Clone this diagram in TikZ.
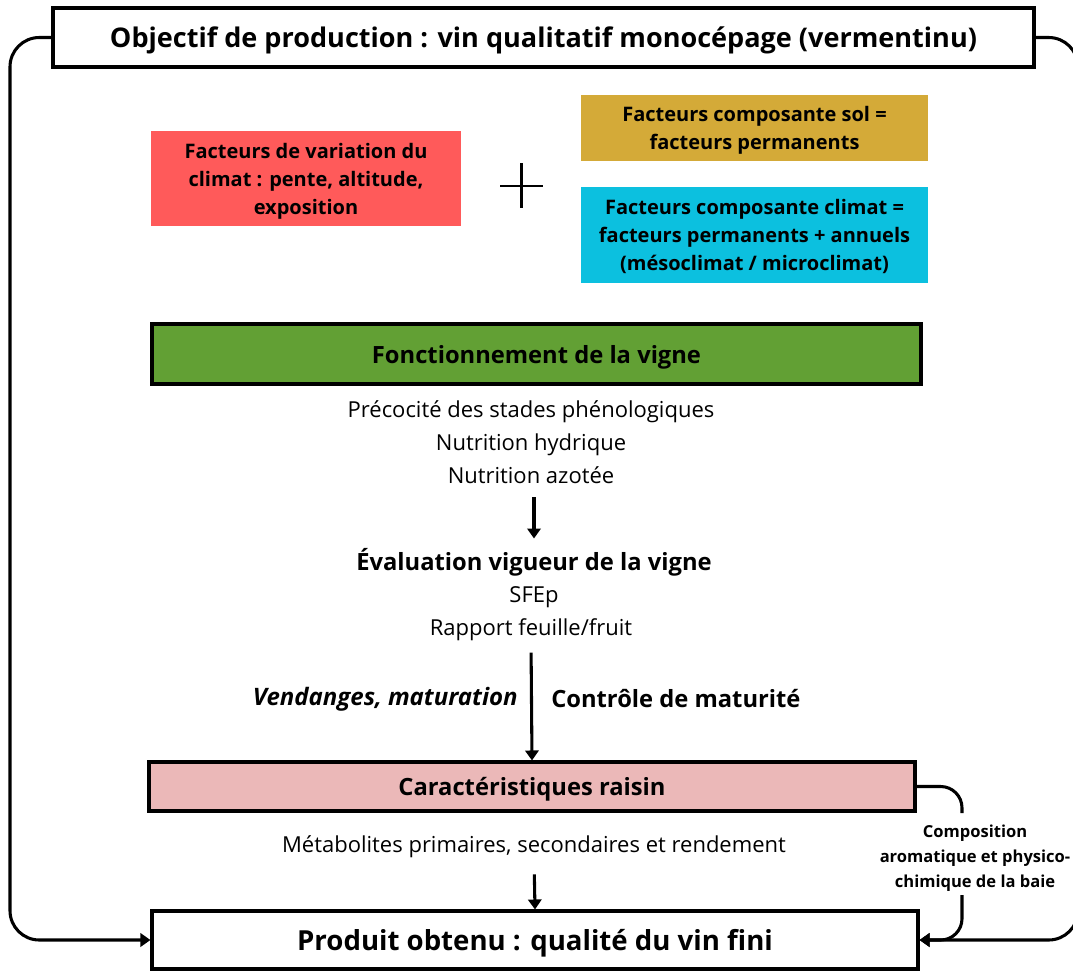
\documentclass[tikz,border=0pt]{standalone}
\usepackage{fontspec}
\setmainfont{Open Sans}
\usetikzlibrary{arrows.meta}
\definecolor{rouge}{HTML}{FF5A5A}
\definecolor{ocre}{HTML}{D4AA38}
\definecolor{cyan}{HTML}{0CC0DF}
\definecolor{vert}{HTML}{62A034}
\definecolor{rose}{HTML}{EBB8B8}

\begin{document}
\begin{tikzpicture}[%
  x=0.75pt, y=-0.75pt,
  fbox/.style={inner sep=0pt, text depth=0pt, align=center, font=\fontsize{15}{21}\selectfont\bfseries},
  hbox/.style={draw, line width=2.3pt, inner sep=0pt, text depth=0pt, font=\fontsize{17.8}{20}\selectfont\bfseries},
  txt/.style={inner sep=0pt, align=center, font=\fontsize{16.5}{24.75}\selectfont},
  conn/.style={line width=2.3pt, rounded corners=22pt},
  arr/.style={line width=2.3pt, -{Triangle[width=10pt,length=7.5pt]}}]
\useasboundingbox (0,0) rectangle (1073,971);

\node[draw, line width=3pt, minimum width=981*0.75pt, minimum height=59*0.75pt,
  inner sep=0pt, text depth=0pt, font=\fontsize{20.3}{24}\selectfont\bfseries] (obj) at (543.5,37.5)
  {Objectif de production : vin qualitatif monocépage (vermentinu)};

\node[fbox, fill=rouge, minimum width=310*0.75pt, minimum height=95*0.75pt] (var) at (306,178.5)
  {Facteurs de variation du\\climat : pente, altitude,\\exposition};
\node[fbox, fill=ocre, minimum width=347*0.75pt, minimum height=66*0.75pt] (sol) at (754.5,128)
  {Facteurs composante sol =\\facteurs permanents};
\node[fbox, fill=cyan, minimum width=347*0.75pt, minimum height=96*0.75pt] (clim) at (754.5,235)
  {Facteurs composante climat =\\facteurs permanents + annuels\\(mésoclimat / microclimat)};
\draw[line width=2.2pt] (500,186) -- (543,186) (521.5,163) -- (521.5,208);

\node[hbox, fill=vert, minimum width=769*0.75pt, minimum height=60*0.75pt] (fonc) at (536.5,354)
  {Fonctionnement de la vigne};
\node[txt] (etats) at (531,442)
  {Précocité des stades phénologiques\\Nutrition hydrique\\Nutrition azotée};

\node[txt, font=\fontsize{17.8}{20}\selectfont\bfseries] (eval) at (534,562)
  {Évaluation vigueur de la vigne};
\node[txt] (sfep) at (534,597) {SFEp};
\node[txt] (rapp) at (531,630) {Rapport feuille/fruit};

\node[txt, anchor=east, font=\fontsize{18}{20}\selectfont\bfseries\itshape] (vend) at (518,699)
  {Vendanges, maturation};
\node[txt, anchor=west, font=\fontsize{17.8}{20}\selectfont\bfseries] (ctrl) at (551,699)
  {Contrôle de maturité};

\node[hbox, fill=rose, minimum width=766*0.75pt, minimum height=49*0.75pt] (rais) at (532,786.5)
  {Caractéristiques raisin};
\node[txt] (meta) at (534,847) {Métabolites primaires, secondaires et rendement};

\node[hbox, fill=white, minimum width=766*0.75pt, minimum height=58*0.75pt,
  font=\fontsize{20.7}{24}\selectfont\bfseries] (prod) at (535,940)
  {Produit obtenu : qualité du vin fini};

\node[fbox, font=\fontsize{12.4}{18.75}\selectfont\bfseries] (comp) at (975,856)
  {Composition\\aromatique et physico-\\chimique de la baie};
\coordinate (ch) at (962,813);
\coordinate (cb) at (962,895);

\draw[arr, shorten <=10pt, shorten >=7pt] (etats.south -| eval) -- (eval.north);
\draw[arr, shorten <=8.5pt] (rapp.south) -- (rais.north);
\draw[arr, shorten <=12pt] (meta.south) -- (prod.north);

\draw[conn, -{Triangle[width=10pt,length=7.5pt]}] (obj.west) -- ++(-41,0) |- (prod.west);
\draw[conn, -{Triangle[width=10pt,length=7.5pt]}] (obj.east) -- ++(42,0) |- (prod.east);
\draw[conn, rounded corners=16pt] (rais.east) -| (ch);
\draw[conn, rounded corners=16pt, -{Triangle[width=10pt,length=7.5pt]}] (cb) |- (prod.east);
\end{tikzpicture}
\end{document}
